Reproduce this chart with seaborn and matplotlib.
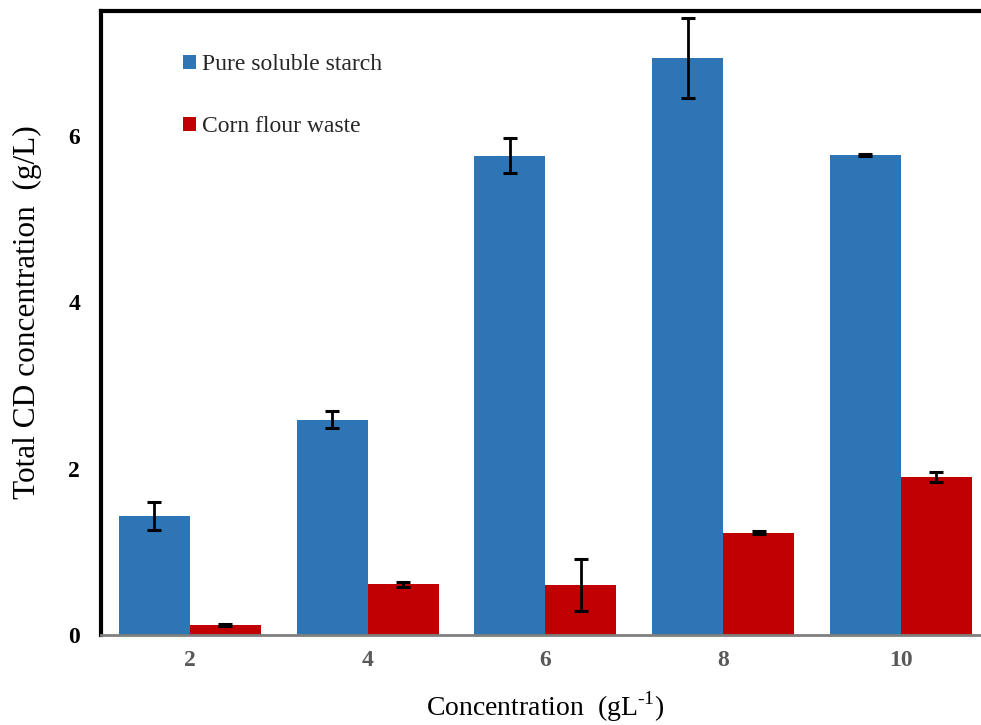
import matplotlib
matplotlib.use("Agg")
import matplotlib.pyplot as plt
import seaborn as sns
import pandas as pd
import numpy as np

categories = ["2", "4", "6", "8", "10"]
series_names = ["Pure soluble starch", "Corn flour waste"]
starch_vals = [1.43, 2.59, 5.76, 6.93, 5.77]
starch_err = [0.165, 0.10, 0.21, 0.48, 0.01]
corn_vals = [0.12, 0.61, 0.60, 1.23, 1.90]
corn_err = [0.015, 0.03, 0.31, 0.02, 0.065]
y_ticks = [0, 2, 4, 6]
colors = ["#2E75B6", "#C00000"]

sns.set_theme(style="white")
plt.rcParams['font.family'] = ['Liberation Serif', 'DejaVu Serif']
plt.rcParams['mathtext.fontset'] = 'custom'
plt.rcParams['mathtext.rm'] = 'Liberation Serif'

df = pd.DataFrame({
    "Concentration": categories * 2,
    "Value": starch_vals + corn_vals,
    "Series": [series_names[0]] * 5 + [series_names[1]] * 5,
})

fig = plt.figure(figsize=(9.81, 7.25), dpi=100)
ax = fig.add_axes([101 / 981, 90 / 725, 888.75 / 981, 624 / 725])

sns.barplot(data=df, x="Concentration", y="Value", hue="Series",
            order=categories, hue_order=series_names, palette=colors,
            width=0.8, errorbar=None, ax=ax, edgecolor="none", saturation=1)

errs = starch_err + corn_err
vals = starch_vals + corn_vals
bars = [p for p in ax.patches if p.get_height() > 0][:10]
for p, v, e in zip(bars, vals, errs):
    xc = p.get_x() + p.get_width() / 2
    ax.errorbar(xc, p.get_height(), yerr=e, fmt="none", ecolor="black",
                elinewidth=2, capsize=5, capthick=2.2, zorder=5)

ax.set_xlim(-0.5, 4.5)
ax.set_ylim(0, 7.5)
ax.set_yticks(y_ticks)
ax.set_yticklabels([str(t) for t in y_ticks])

for lab in ax.get_yticklabels():
    lab.set_fontweight("bold")
    lab.set_fontsize(17)
    lab.set_color("black")
for lab in ax.get_xticklabels():
    lab.set_fontweight("bold")
    lab.set_fontsize(17)
    lab.set_color("#595959")

ax.tick_params(axis="y", length=0, pad=15)
ax.tick_params(axis="x", length=0, pad=11)

ax.set_xlabel(r"Concentration  (gL$^{\text{-1}}$)", fontsize=20, color="black", labelpad=13)
ax.set_ylabel("Total CD concentration  (g/L)", fontsize=22.5, color="black")
ax.yaxis.set_label_coords((42 - 101) / 888.75, (635 - 312) / 624)

for s in ["left", "top"]:
    ax.spines[s].set_color("black")
    ax.spines[s].set_linewidth(3)
ax.spines["bottom"].set_color("#7f7f7f")
ax.spines["bottom"].set_linewidth(2)
ax.spines["right"].set_visible(False)

leg = ax.legend(loc="upper left", bbox_to_anchor=((183 - 101) / 888.75, (635 - 54) / 624),
                frameon=False, fontsize=17, handlelength=0.55, handleheight=0.55,
                handletextpad=0.25, labelspacing=1.75, borderpad=0, borderaxespad=0)

fig.savefig("out.png", dpi=100)
